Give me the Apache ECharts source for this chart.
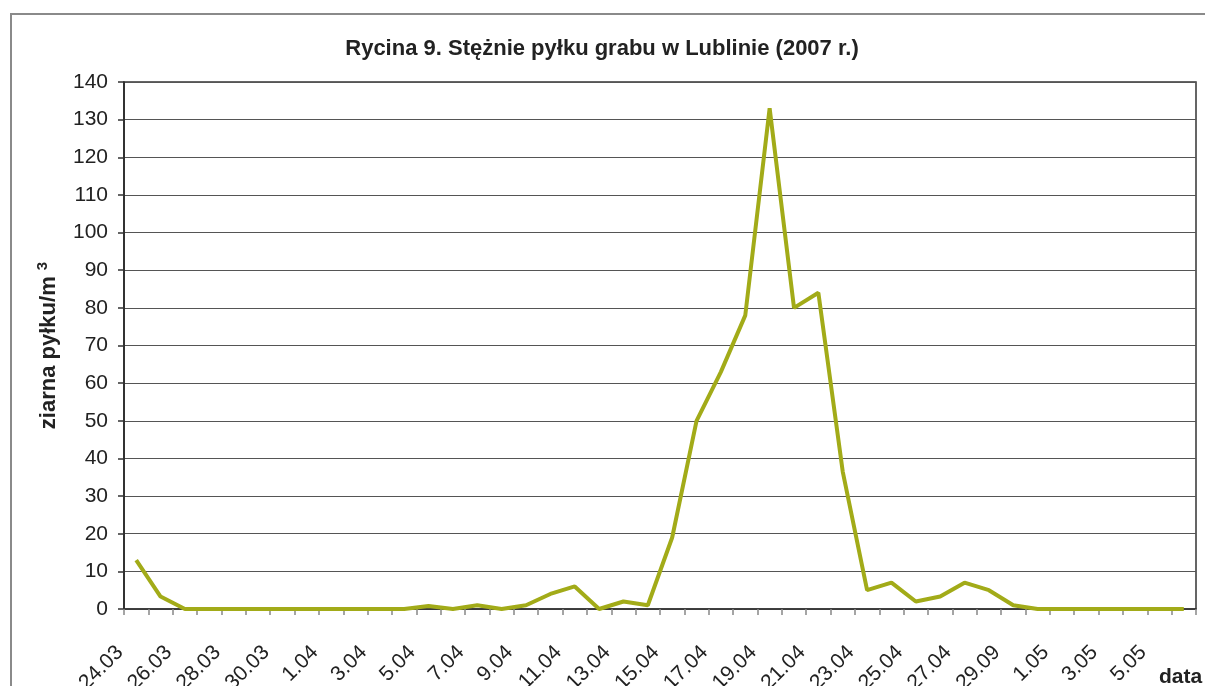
<!DOCTYPE html>
<html>
<head>
<meta charset="utf-8">
<script src="https://cdn.jsdelivr.net/npm/echarts@6/dist/echarts.min.js"></script>
<style>
  html, body { margin: 0; padding: 0; background: #fff; }
  #main { width: 1205px; height: 686px; }
</style>
</head>
<body>
<div id="main"></div>
<script>
// daty (24.03 - 6.05), podpis "29.09" jak na rycinie
var dni = [
  '24.03', '25.03', '26.03', '27.03', '28.03', '29.03', '30.03', '31.03',
  '1.04', '2.04', '3.04', '4.04', '5.04', '6.04', '7.04', '8.04', '9.04', '10.04',
  '11.04', '12.04', '13.04', '14.04', '15.04', '16.04', '17.04', '18.04', '19.04', '20.04',
  '21.04', '22.04', '23.04', '24.04', '25.04', '26.04', '27.04', '28.04', '29.09', '30.04',
  '1.05', '2.05', '3.05', '4.05', '5.05', '6.05'
];
var pylek = [
  13, 3.3, 0, 0, 0, 0, 0, 0,
  0, 0, 0, 0, 0.8, 0, 1, 0, 1, 4,
  6, 0, 2, 1, 19, 50, 63, 78, 133, 80,
  84, 36.5, 5, 7, 2, 3.3, 7, 5, 1, 0,
  0, 0, 0, 0, 0, 0
];
var yTicks = [0, 140, 10]; // min, max, krok

var chart = echarts.init(document.getElementById('main'));
var option = {
  backgroundColor: '#fff',
  animation: false,
  title: {
    text: 'Rycina 9. Stężnie pyłku grabu w Lublinie (2007 r.)',
    left: 597,
    textAlign: 'center',
    top: 33,
    textStyle: {
      fontFamily: 'Liberation Sans',
      fontSize: 22,
      fontWeight: 'bold',
      color: '#222'
    }
  },
  grid: {
    left: 124,
    right: 9,
    top: 82,
    bottom: 77,
    outerBoundsMode: 'none',
    containLabel: false,
    show: true,
    borderColor: '#333',
    borderWidth: 1.5
  },
  graphic: [
    {
      type: 'rect',
      shape: { x: 11, y: 14, width: 1220, height: 700 },
      style: { fill: 'none', stroke: '#8a8a8a', lineWidth: 2 },
      silent: true
    },
    {
      type: 'text',
      left: 1159,
      top: 667,
      style: {
        text: 'data',
        font: 'bold 21px "Liberation Sans"',
        fill: '#222'
      }
    }
  ],
  xAxis: {
    type: 'category',
    data: dni,
    boundaryGap: true,
    axisLine: { lineStyle: { color: '#333', width: 1.5 } },
    axisTick: {
      show: true,
      interval: 0,
      length: 6,
      lineStyle: { color: '#888', width: 1.5 }
    },
    axisLabel: {
      interval: 1,
      rotate: 45,
      margin: 24,
      padding: [0, 23, 0, 0],
      fontFamily: 'Liberation Sans',
      fontSize: 21,
      color: '#222'
    },
    splitLine: { show: false }
  },
  yAxis: {
    type: 'value',
    min: yTicks[0],
    max: yTicks[1],
    interval: yTicks[2],
    name: 'ziarna pyłku/m {sup|3}',
    nameLocation: 'middle',
    nameGap: 62,
    nameRotate: 90,
    nameTextStyle: {
      fontFamily: 'Liberation Sans',
      fontSize: 22,
      fontWeight: 'bold',
      color: '#222',
      rich: {
        sup: {
          fontFamily: 'Liberation Sans',
          fontSize: 15,
          fontWeight: 'bold',
          color: '#222',
          verticalAlign: 'top',
          padding: [0, 0, 12, 0]
        }
      }
    },
    axisLine: { show: true, lineStyle: { color: '#222', width: 1.5 } },
    axisTick: { show: true, length: 6, lineStyle: { color: '#333', width: 1.5 } },
    axisLabel: {
      margin: 16,
      fontFamily: 'Liberation Sans',
      fontSize: 21,
      color: '#222'
    },
    splitLine: { show: true, lineStyle: { color: '#555', width: 1.2 } }
  },
  series: [
    {
      type: 'line',
      data: pylek,
      symbol: 'none',
      lineStyle: { color: '#a2ab18', width: 4 },
      itemStyle: { color: '#a2ab18' }
    }
  ]
};
chart.setOption(option);
</script>
</body>
</html>
